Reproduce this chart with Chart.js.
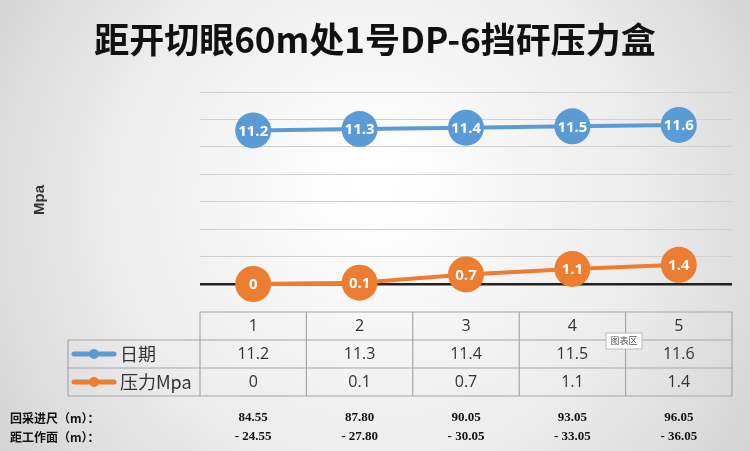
<!DOCTYPE html>
<html><head><meta charset="utf-8">
<script src="https://cdn.jsdelivr.net/npm/chart.js@4"></script>
<style>html,body{margin:0;padding:0;background:#e8e8e8}#w{width:750px;height:451px}</style>
</head><body><div id="w"><canvas id="c" width="750" height="451"></canvas></div>
<script>
const titleText = '距开切眼60m处1号DP-6挡矸压力盒';
const categories = ['1','2','3','4','5'];
const seriesNames = ['日期','压力Mpa'];
const dateValues = [11.2, 11.3, 11.4, 11.5, 11.6];
const pressureValues = [0, 0.1, 0.7, 1.1, 1.4];
const advanceLabel = '回采进尺（m）：';
const advanceValues = ['84.55','87.80','90.05','93.05','96.05'];
const distLabel = '距工作面（m）：';
const distValues = ['- 24.55','- 27.80','- 30.05','- 33.05','- 36.05'];
const yTicks = [0,2,4,6,8,10,12,14];
const colors = ['#5B9BD5','#ED7D31'];

const bgPlugin = {
  id:'bg',
  beforeDraw(ch){
    const c=ch.ctx;
    const g=c.createRadialGradient(375,180,20,375,225,520);
    g.addColorStop(0,'#ffffff');g.addColorStop(0.5,'#ececec');g.addColorStop(1,'#c9c9c9');
    c.save();c.fillStyle=g;c.fillRect(0,0,750,451);
    c.fillStyle='#111';c.font='bold 35px "Noto Sans CJK SC"';c.textAlign='center';c.textBaseline='middle';
    c.fillText(titleText,375,40);
    c.translate(40,200);c.rotate(-Math.PI/2);c.font='bold 15px "Liberation Sans"';c.fillStyle='#333';
    c.fillText('Mpa',0,0);
    c.restore();
  },
  afterDatasetsDraw(ch){
    const c=ch.ctx;c.save();
    c.textAlign='center';c.textBaseline='middle';
    ch.data.datasets.forEach((ds,i)=>{
      const meta=ch.getDatasetMeta(i);
      meta.data.forEach((p,j)=>{
        c.font='bold 15px "Open Sans"';c.fillStyle='#fff';
        c.fillText(String(ds.data[j]),p.x,p.y+1);
      });
    });
    const xs=ch.scales.x, area=ch.chartArea;
    const bw=(area.right-area.left)/categories.length;
    const top=312,rh=28,lx=68;
    c.strokeStyle='#a6a6a6';c.lineWidth=1.2;
    c.beginPath();
    c.moveTo(area.left,top);c.lineTo(area.right,top);
    c.moveTo(lx,top+rh);c.lineTo(area.right,top+rh);
    c.moveTo(lx,top+2*rh);c.lineTo(area.right,top+2*rh);
    c.moveTo(lx,top+3*rh);c.lineTo(area.right,top+3*rh);
    c.moveTo(lx,top+rh);c.lineTo(lx,top+3*rh);
    for(let k=0;k<=categories.length;k++){const x=area.left+k*bw;c.moveTo(x,top);c.lineTo(x,top+3*rh);}
    c.stroke();
    c.fillStyle='#333';c.font='16px "Open Sans"';
    categories.forEach((t,j)=>{
      const x=xs.getPixelForValue(j);
      c.fillText(t,x,top+rh/2);
      c.fillText(String(dateValues[j]),x,top+rh*1.5);
      c.fillText(String(pressureValues[j]),x,top+rh*2.5);
    });
    [0,1].forEach(r=>{
      const y=top+rh*(1.5+r);
      c.strokeStyle=colors[r];c.lineWidth=5;c.lineCap='round';
      c.beginPath();c.moveTo(74,y);c.lineTo(114,y);c.stroke();
      c.fillStyle=colors[r];c.beginPath();c.arc(94,y,5,0,7);c.fill();
      c.fillStyle='#333';c.textAlign='left';c.font='18px "Noto Sans CJK SC"';
      c.fillText(seriesNames[r],120,y);
      c.textAlign='center';
    });
    c.fillStyle='#fff';c.strokeStyle='#bbb';c.lineWidth=1;
    c.fillRect(606,333,36,16);c.strokeRect(606,333,36,16);
    c.fillStyle='#555';c.font='9px "Noto Sans CJK SC"';c.fillText('图表区',624,341);
    c.fillStyle='#111';c.textAlign='left';c.font='bold 12px "Noto Sans CJK SC"';
    c.fillText(advanceLabel,10,418);c.fillText(distLabel,10,437);
    c.textAlign='center';c.font='bold 13px "Liberation Serif"';
    advanceValues.forEach((v,j)=>{const x=xs.getPixelForValue(j);c.fillText(v,x,418);c.fillText(distValues[j],x,437);});
    c.restore();
  }
};

new Chart(document.getElementById('c'),{
  type:'line',
  data:{labels:categories,datasets:[
    {label:seriesNames[0],data:dateValues,borderColor:colors[0],backgroundColor:colors[0],borderWidth:4,pointRadius:18,pointHoverRadius:18,pointBorderWidth:0,clip:false},
    {label:seriesNames[1],data:pressureValues,borderColor:colors[1],backgroundColor:colors[1],borderWidth:4,pointRadius:18,pointHoverRadius:18,pointBorderWidth:0,clip:false}
  ]},
  options:{
    responsive:false,animation:false,
    layout:{padding:{left:200,right:10,top:92,bottom:167}},
    plugins:{legend:{display:false},tooltip:{enabled:false},title:{display:false}},
    scales:{
      x:{offset:true,display:false},
      y:{min:0,max:14,display:true,afterBuildTicks(s){s.ticks=yTicks.map(v=>({value:v}));},
        ticks:{display:false},
        grid:{color:ctx=>ctx.tick&&ctx.tick.value===0?'#222':'#d0d0d0',lineWidth:ctx=>ctx.tick&&ctx.tick.value===0?2.5:1,drawTicks:false},
        border:{display:false}}
    }
  },
  plugins:[bgPlugin]
});
</script></body></html>
